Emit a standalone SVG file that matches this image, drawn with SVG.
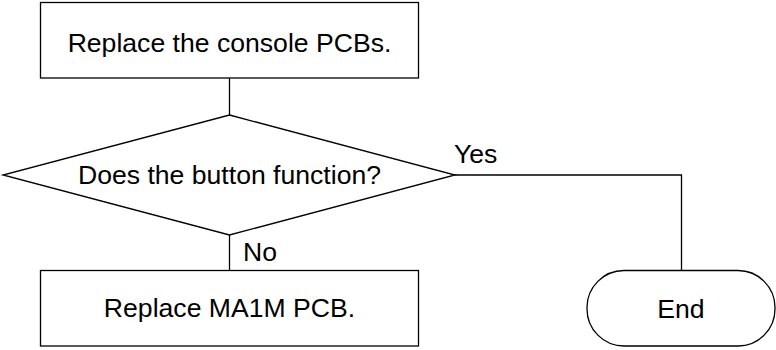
<svg xmlns="http://www.w3.org/2000/svg" width="776" height="350" viewBox="0 0 776 350">
<style>
.s{fill:#fff;stroke:#000;stroke-width:1.3}
.c{fill:none;stroke:#000;stroke-width:1.3}
text{font-family:"Liberation Sans",Arial,sans-serif;font-size:26.6px;fill:#000}
.m{text-anchor:middle}
</style>
<rect width="776" height="350" fill="#fff"/>
<g id="connectors">
<line class="c" x1="229.5" y1="78" x2="229.5" y2="115"/>
<line class="c" x1="229.5" y1="235" x2="229.5" y2="270.5"/>
<polyline class="c" points="455,175 681.5,175 681.5,270"/>
<text x="454" y="163">Yes</text>
<text x="243" y="261">No</text>
</g>
<g id="n1">
<rect class="s" x="40.5" y="2.5" width="378" height="75.5"/>
<text class="m" x="229.5" y="52">Replace the console PCBs.</text>
</g>
<g id="n2">
<polygon class="s" points="229.5,115 455,175 229.5,235 3,175"/>
<text class="m" x="229.5" y="184">Does the button function?</text>
</g>
<g id="n3">
<rect class="s" x="40.5" y="270.5" width="378" height="75.5"/>
<text class="m" x="229.5" y="317">Replace MA1M PCB.</text>
</g>
<g id="n4">
<rect class="s" x="587" y="270.5" width="188" height="75.5" rx="37" ry="37"/>
<text class="m" x="681" y="318">End</text>
</g>
</svg>
